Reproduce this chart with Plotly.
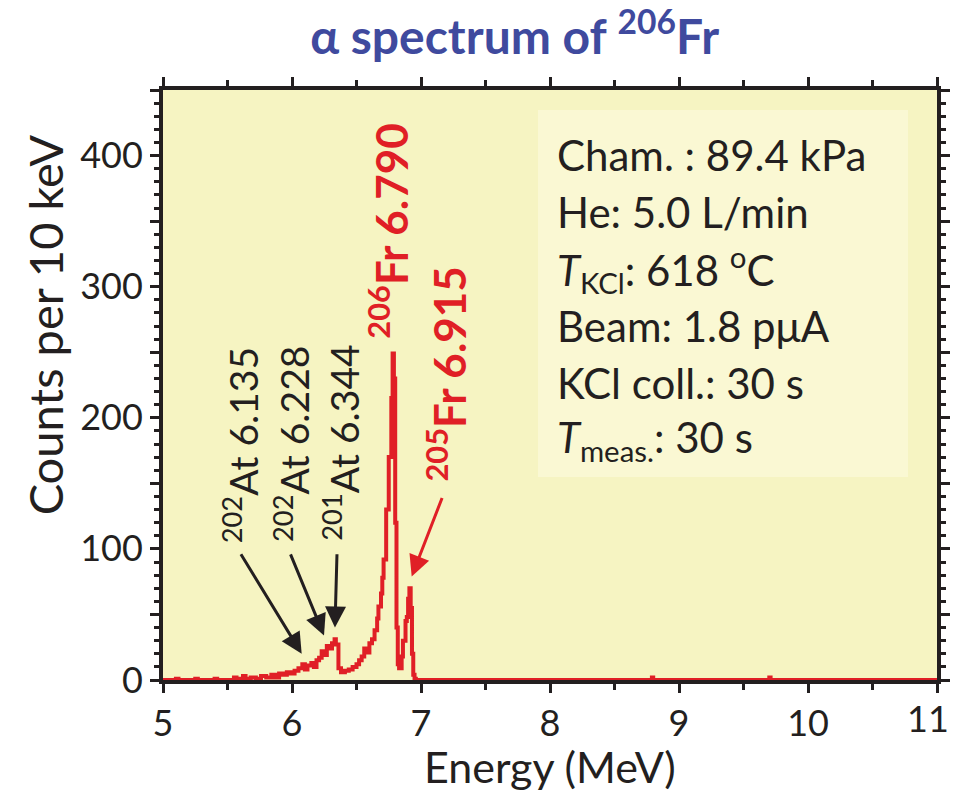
import plotly.graph_objects as go

# ---- data ----
energy = [5.00, 5.10, 5.12, 5.25, 5.27, 5.40, 5.42, 5.55, 5.57, 5.62, 5.64, 5.68, 5.72, 5.76,
          5.80, 5.84, 5.87, 5.90, 5.93, 5.96, 5.99, 6.02, 6.05, 6.08, 6.10, 6.12, 6.15, 6.17,
          6.19, 6.21, 6.23, 6.25, 6.27, 6.29, 6.31, 6.33, 6.34, 6.36, 6.38, 6.41, 6.44, 6.47,
          6.50, 6.52, 6.54, 6.56, 6.58, 6.60, 6.62, 6.64, 6.66, 6.67, 6.69, 6.70, 6.71, 6.73,
          6.75, 6.77, 6.78, 6.79, 6.80, 6.81, 6.82, 6.83, 6.85, 6.86, 6.88, 6.89, 6.90, 6.91,
          6.92, 6.93, 6.94, 6.95, 6.96, 8.78, 8.79, 8.80, 9.70, 9.71, 11.0]
counts = [0, 1, 0, 1, 0, 1, 0, 2, 1, 3, 1, 2, 1, 3,
          2, 4, 2, 5, 4, 6, 5, 7, 9, 12, 8, 11, 13, 10,
          15, 17, 22, 19, 26, 24, 28, 31, 27, 9, 6, 7, 8, 10,
          12, 15, 18, 24, 21, 28, 31, 38, 47, 56, 66, 78, 92, 130,
          170, 215, 249, 230, 120, 40, 12, 9, 18, 30, 45, 48, 62, 70,
          55, 20, 4, 1, 0, 0, 2, 0, 2, 0, 0]

x_tickvals = [5, 6, 7, 8, 9, 10, 11]
x_ticktext = ["5", "6", "7", "8", "9", "10", ""]
last_x_label = "11"
y_tickvals = [0, 50, 100, 150, 200, 250, 300, 350, 400, 450]
y_ticktext = ["0", "", "100", "", "200", "", "300", "", "400", ""]

peak_labels = ["<sup>202</sup>At 6.135", "<sup>202</sup>At 6.228", "<sup>201</sup>At 6.344"]
peak_label_x = [5.597, 5.992, 6.380]
peak_label_y = [179, 180, 181]
arrow_tip_x = [6.075, 6.248, 6.333]
arrow_tip_y = [20, 34, 40]
arrow_tail_x = [5.597, 5.984, 6.349]
arrow_tail_y = [97, 97, 97]

info_lines = ["Cham. : 89.4 kPa",
              "He: 5.0 L/min",
              "<i>T</i><sub>KCl</sub>: 618 <sup>o</sup>C",
              "Beam: 1.8 pμA",
              "KCl coll.: 30 s",
              "<i>T</i><sub>meas.</sub>: 30 s"]

RED = "#E01F26"
DARK = "#231F20"
FONT = "Lato"

fig = go.Figure()
fig.add_trace(go.Scatter(x=energy, y=counts, mode="lines",
                         line=dict(color=RED, width=4, shape="hv"),
                         showlegend=False, hoverinfo="skip"))

# info box
fig.add_shape(type="rect", xref="paper", yref="paper", x0=0.4845, x1=0.9625, y0=0.344, y1=0.966,
              fillcolor="#FAF8D3", line=dict(width=0), layer="below")

info_y = [0.8898, 0.7932, 0.6966, 0.6000, 0.5034, 0.4068]
for t, yy in zip(info_lines, info_y):
    fig.add_annotation(text=t, xref="paper", yref="paper", x=0.507, y=yy,
                       xanchor="left", yanchor="middle", showarrow=False,
                       font=dict(family=FONT, size=42, color=DARK))

# black labels and arrows
for t, lx, ly in zip(peak_labels, peak_label_x, peak_label_y):
    fig.add_annotation(text=t, x=lx, y=ly, textangle=-90, showarrow=False,
                       xanchor="center", yanchor="middle",
                       font=dict(family=FONT, size=39, color=DARK))
for tx, ty, ax, ay in zip(arrow_tip_x, arrow_tip_y, arrow_tail_x, arrow_tail_y):
    fig.add_annotation(text="", x=tx, y=ty, ax=ax, ay=ay, axref="x", ayref="y",
                       showarrow=True, arrowhead=2, arrowsize=1.4, arrowwidth=3,
                       arrowcolor=DARK, standoff=0)

# red labels
fig.add_annotation(text="<sup>206</sup>Fr 6.790", x=6.745, y=342, textangle=-90, showarrow=False,
                   xanchor="center", yanchor="middle",
                   font=dict(family=FONT, size=44, color=RED, weight="bold"))
fig.add_annotation(text="<sup>205</sup>Fr 6.915", x=7.194, y=233, textangle=-90, showarrow=False,
                   xanchor="center", yanchor="middle",
                   font=dict(family=FONT, size=44, color=RED, weight="bold"))
fig.add_annotation(text="", x=6.928, y=79, ax=7.168, ay=140, axref="x", ayref="y",
                   showarrow=True, arrowhead=2, arrowsize=1.4, arrowwidth=3,
                   arrowcolor=RED, standoff=0)

# axis titles
fig.add_annotation(text="Counts per 10 keV", xref="paper", yref="paper", x=-0.152, y=0.6017,
                   textangle=-90, showarrow=False, xanchor="center", yanchor="middle",
                   font=dict(family=FONT, size=47, color=DARK))
fig.add_annotation(text="Energy (MeV)", xref="paper", yref="paper", x=0.5, y=-0.1458,
                   showarrow=False, xanchor="center", yanchor="middle",
                   font=dict(family=FONT, size=43, color=DARK))
# last x tick label, kept inside the page
fig.add_annotation(text=last_x_label, xref="paper", yref="paper", x=1.0185, y=-0.0652,
                   showarrow=False, xanchor="right", yanchor="middle",
                   font=dict(family=FONT, size=36, color=DARK))

axis_common = dict(showline=True, linecolor=DARK, linewidth=4, mirror="ticks",
                   ticks="outside", tickcolor=DARK, tickwidth=3, ticklen=9,
                   showgrid=False, zeroline=False, automargin=False,
                   tickfont=dict(family=FONT, size=36, color=DARK))

fig.update_xaxes(range=[5, 11], tickvals=x_tickvals, ticktext=x_ticktext,
                 minor=dict(dtick=0.5, ticks="outside", ticklen=6, tickwidth=3, tickcolor=DARK),
                 **axis_common)
fig.update_yaxes(range=[0, 450], tickvals=y_tickvals, ticktext=y_ticktext,
                 minor=dict(dtick=10, ticks="outside", ticklen=5, tickwidth=3, tickcolor=DARK),
                 **axis_common)

fig.update_layout(
    width=953, height=793,
    margin=dict(l=163, r=16, t=90, b=113),
    paper_bgcolor="white", plot_bgcolor="#F6F4C2",
    title=dict(text="α spectrum of <sup>206</sup>Fr", x=0.54, xanchor="center",
               y=1 - 37 / 793, yanchor="middle",
               font=dict(family=FONT, size=48, color="#3F4A9E", weight="bold")),
)

fig.write_html("out.html")
